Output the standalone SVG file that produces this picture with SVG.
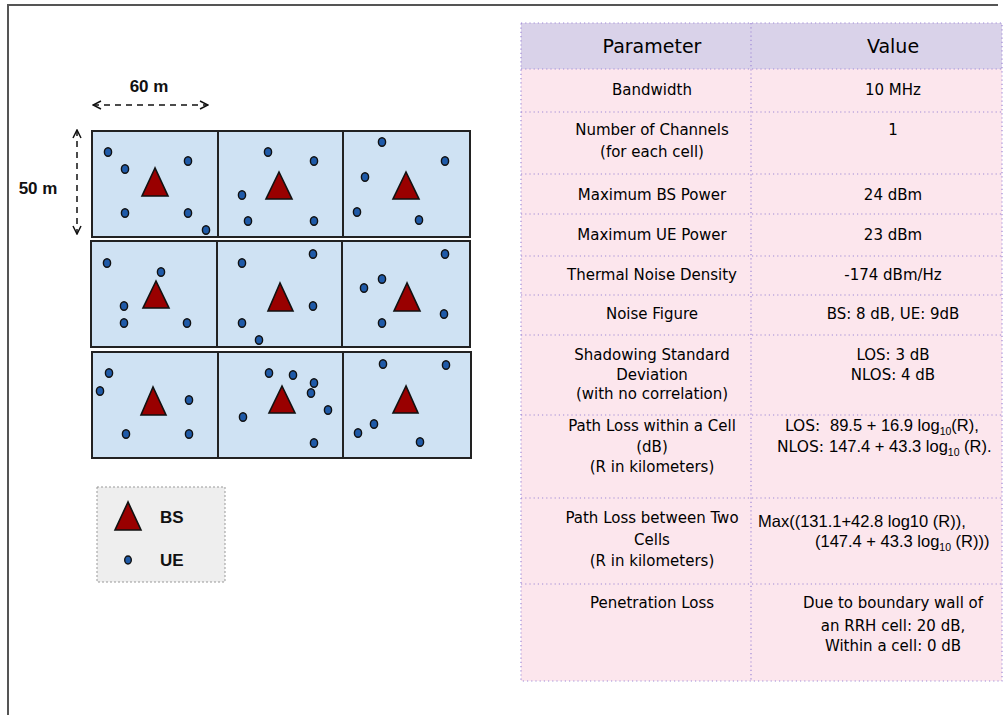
<svg xmlns="http://www.w3.org/2000/svg" width="1007" height="715" viewBox="0 0 1007 715">
<defs>
<style>
.frame{fill:none;stroke:#555;stroke-width:2}
.cell{fill:#cfe2f3;stroke:#222;stroke-width:2}
.bs{fill:#990000;stroke:#111;stroke-width:1.6;stroke-linejoin:miter}
.ue{fill:#1f5aa8;stroke:#111;stroke-width:1.4}
.dim{fill:none;stroke:#111;stroke-width:1.5;stroke-dasharray:6,5}
.lbl{font-family:"Liberation Sans",Arial,sans-serif;font-size:17px;font-weight:bold;fill:#111}
.legend{fill:#eeeeee;stroke:#999;stroke-width:1;stroke-dasharray:2,2}
.hdr{fill:#d9d2e9}
.body{fill:#fce6ed}
.grid{fill:none;stroke:#a08ad8;stroke-width:1.2;stroke-dasharray:1.2,3}
.t{font-family:"DejaVu Sans","Comic Sans MS",sans-serif;font-size:15px;fill:#000;text-anchor:middle}
.th{font-family:"DejaVu Sans","Comic Sans MS",sans-serif;font-size:19px;fill:#000;text-anchor:middle}
.f{font-family:"Liberation Sans",Arial,sans-serif;font-size:16.5px;fill:#000}
.lo{font-family:"DejaVu Sans","Comic Sans MS",sans-serif;font-size:15.5px}
.sub{font-size:10.5px}
</style>
<marker id="arr" viewBox="0 0 10 10" refX="9" refY="5" markerWidth="10" markerHeight="10" markerUnits="userSpaceOnUse" orient="auto-start-reverse">
<path d="M1,1 L9,5 L1,9" fill="none" stroke="#111" stroke-width="1.5"/>
</marker>
</defs>
<rect width="1007" height="715" fill="#ffffff"/>
<path class="frame" d="M8,715 V5 H998"/>

<g id="cell-r1c1">
<rect class="cell" x="92" y="131" width="126" height="106"/>
<polygon class="bs" points="155,168 142,196 168,196"/>
<ellipse class="ue" cx="108" cy="152" rx="3.6" ry="4.3"/>
<ellipse class="ue" cx="125" cy="169" rx="3.6" ry="4.3"/>
<ellipse class="ue" cx="188" cy="161" rx="3.6" ry="4.3"/>
<ellipse class="ue" cx="125" cy="213" rx="3.6" ry="4.3"/>
<ellipse class="ue" cx="188" cy="213" rx="3.6" ry="4.3"/>
<ellipse class="ue" cx="206" cy="230" rx="3.6" ry="4.3"/>
</g>
<g id="cell-r1c2">
<rect class="cell" x="218" y="131" width="125" height="106"/>
<polygon class="bs" points="279,172 266,199 292,199"/>
<ellipse class="ue" cx="268" cy="152" rx="3.6" ry="4.3"/>
<ellipse class="ue" cx="314" cy="161" rx="3.6" ry="4.3"/>
<ellipse class="ue" cx="242" cy="195" rx="3.6" ry="4.3"/>
<ellipse class="ue" cx="248" cy="221" rx="3.6" ry="4.3"/>
<ellipse class="ue" cx="314" cy="221" rx="3.6" ry="4.3"/>
</g>
<g id="cell-r1c3">
<rect class="cell" x="343" y="131" width="127" height="106"/>
<polygon class="bs" points="406,172 393,199 419,199"/>
<ellipse class="ue" cx="382" cy="142" rx="3.6" ry="4.3"/>
<ellipse class="ue" cx="445" cy="161" rx="3.6" ry="4.3"/>
<ellipse class="ue" cx="365" cy="177" rx="3.6" ry="4.3"/>
<ellipse class="ue" cx="357" cy="212" rx="3.6" ry="4.3"/>
<ellipse class="ue" cx="419" cy="220" rx="3.6" ry="4.3"/>
</g>

<g id="cell-r2c1">
<rect class="cell" x="91" y="241" width="126" height="106"/>
<polygon class="bs" points="156,281 143,308 169,308"/>
<ellipse class="ue" cx="107" cy="263" rx="3.6" ry="4.3"/>
<ellipse class="ue" cx="161" cy="272" rx="3.6" ry="4.3"/>
<ellipse class="ue" cx="124" cy="306" rx="3.6" ry="4.3"/>
<ellipse class="ue" cx="124" cy="323" rx="3.6" ry="4.3"/>
<ellipse class="ue" cx="187" cy="323" rx="3.6" ry="4.3"/>
</g>
<g id="cell-r2c2">
<rect class="cell" x="217" y="241" width="125" height="106"/>
<polygon class="bs" points="280,283 268,311 293,311"/>
<ellipse class="ue" cx="242" cy="263" rx="3.6" ry="4.3"/>
<ellipse class="ue" cx="313" cy="254" rx="3.6" ry="4.3"/>
<ellipse class="ue" cx="313" cy="306" rx="3.6" ry="4.3"/>
<ellipse class="ue" cx="242" cy="323" rx="3.6" ry="4.3"/>
<ellipse class="ue" cx="259" cy="340" rx="3.6" ry="4.3"/>
</g>
<g id="cell-r2c3">
<rect class="cell" x="342" y="241" width="128" height="106"/>
<polygon class="bs" points="407,283 394,311 420,311"/>
<ellipse class="ue" cx="445" cy="254" rx="3.6" ry="4.3"/>
<ellipse class="ue" cx="382" cy="279" rx="3.6" ry="4.3"/>
<ellipse class="ue" cx="364" cy="288" rx="3.6" ry="4.3"/>
<ellipse class="ue" cx="444" cy="314" rx="3.6" ry="4.3"/>
<ellipse class="ue" cx="382" cy="323" rx="3.6" ry="4.3"/>
</g>

<g id="cell-r3c1">
<rect class="cell" x="92" y="352" width="126" height="106"/>
<polygon class="bs" points="153,387 141,415 166,415"/>
<ellipse class="ue" cx="109" cy="373" rx="3.6" ry="4.3"/>
<ellipse class="ue" cx="100" cy="391" rx="3.6" ry="4.3"/>
<ellipse class="ue" cx="189" cy="400" rx="3.6" ry="4.3"/>
<ellipse class="ue" cx="126" cy="434" rx="3.6" ry="4.3"/>
<ellipse class="ue" cx="189" cy="434" rx="3.6" ry="4.3"/>
</g>
<g id="cell-r3c2">
<rect class="cell" x="218" y="352" width="125" height="106"/>
<polygon class="bs" points="282,386 269,413 295,413"/>
<ellipse class="ue" cx="269" cy="373" rx="3.6" ry="4.3"/>
<ellipse class="ue" cx="293" cy="375" rx="3.6" ry="4.3"/>
<ellipse class="ue" cx="314" cy="383" rx="3.6" ry="4.3"/>
<ellipse class="ue" cx="311" cy="393" rx="3.6" ry="4.3"/>
<ellipse class="ue" cx="328" cy="410" rx="3.6" ry="4.3"/>
<ellipse class="ue" cx="243" cy="417" rx="3.6" ry="4.3"/>
<ellipse class="ue" cx="314" cy="443" rx="3.6" ry="4.3"/>
</g>
<g id="cell-r3c3">
<rect class="cell" x="343" y="352" width="128" height="106"/>
<polygon class="bs" points="406,386 393,413 418,413"/>
<ellipse class="ue" cx="383" cy="364" rx="3.6" ry="4.3"/>
<ellipse class="ue" cx="446" cy="365" rx="3.6" ry="4.3"/>
<ellipse class="ue" cx="374" cy="424" rx="3.6" ry="4.3"/>
<ellipse class="ue" cx="358" cy="433" rx="3.6" ry="4.3"/>
<ellipse class="ue" cx="420" cy="442" rx="3.6" ry="4.3"/>
</g>

<g id="connectors">
<line class="dim" x1="93" y1="105" x2="208" y2="105" marker-start="url(#arr)" marker-end="url(#arr)"/>
<line class="dim" x1="77" y1="130" x2="77" y2="234" marker-start="url(#arr)" marker-end="url(#arr)"/>
</g>
<g id="dim-labels">
<text class="lbl" x="149" y="92" text-anchor="middle">60 m</text>
<text class="lbl" x="38" y="194" text-anchor="middle">50 m</text>
</g>

<g id="legend">
<rect class="legend" x="97" y="487" width="128" height="95"/>
<polygon class="bs" points="128,502 115,530 141,530"/>
<text class="lbl" x="160" y="523">BS</text>
<ellipse class="ue" cx="128" cy="560" rx="3.3" ry="4"/>
<text class="lbl" x="160" y="566">UE</text>
</g>

<g id="table">
<rect class="hdr" x="521" y="23" width="481" height="46"/>
<rect class="body" x="521" y="69" width="481" height="612"/>
<g class="grid">
<rect x="521" y="23" width="481" height="658"/>
<line x1="751" y1="23" x2="751" y2="681"/>
<line x1="521" y1="69" x2="1002" y2="69"/>
<line x1="521" y1="112" x2="1002" y2="112"/>
<line x1="521" y1="174" x2="1002" y2="174"/>
<line x1="521" y1="214" x2="1002" y2="214"/>
<line x1="521" y1="256" x2="1002" y2="256"/>
<line x1="521" y1="295" x2="1002" y2="295"/>
<line x1="521" y1="335" x2="1002" y2="335"/>
<line x1="521" y1="415" x2="1002" y2="415"/>
<line x1="521" y1="498" x2="1002" y2="498"/>
<line x1="521" y1="584" x2="1002" y2="584"/>
</g>
<g id="row-header">
<text class="th" x="652" y="53">Parameter</text>
<text class="th" x="893" y="53">Value</text>
</g>
<g id="row-bandwidth">
<text class="t" x="652" y="95">Bandwidth</text>
<text class="t" x="893" y="95">10 MHz</text>
</g>
<g id="row-channels">
<text class="t" x="652" y="135">Number of Channels</text>
<text class="t" x="652" y="157">(for each cell)</text>
<text class="t" x="893" y="135">1</text>
</g>
<g id="row-bs-power">
<text class="t" x="652" y="200">Maximum BS Power</text>
<text class="t" x="893" y="200">24 dBm</text>
</g>
<g id="row-ue-power">
<text class="t" x="652" y="240">Maximum UE Power</text>
<text class="t" x="893" y="240">23 dBm</text>
</g>
<g id="row-thermal">
<text class="t" x="652" y="280">Thermal Noise Density</text>
<text class="t" x="893" y="280">-174 dBm/Hz</text>
</g>
<g id="row-noise">
<text class="t" x="652" y="319">Noise Figure</text>
<text class="t" x="893" y="319">BS: 8 dB, UE: 9dB</text>
</g>
<g id="row-shadowing">
<text class="t" x="652" y="360">Shadowing Standard</text>
<text class="t" x="652" y="380">Deviation</text>
<text class="t" x="652" y="399">(with no correlation)</text>
<text class="t" x="893" y="360">LOS: 3 dB</text>
<text class="t" x="893" y="380">NLOS: 4 dB</text>
</g>
<g id="row-pl-within">
<text class="t" x="652" y="431">Path Loss within a Cell</text>
<text class="t" x="652" y="452">(dB)</text>
<text class="t" x="652" y="472">(R in kilometers)</text>
<text class="f" x="785" y="431"><tspan class="lo">LOS:</tspan><tspan x="830">89.5 + 16.9 log</tspan><tspan class="sub" dy="4">10</tspan><tspan dy="-4">(R),</tspan></text>
<text class="f" x="777" y="452"><tspan class="lo">NLOS:</tspan><tspan x="829">147.4 + 43.3 log</tspan><tspan class="sub" dy="4">10</tspan><tspan dy="-4"> (R).</tspan></text>
</g>
<g id="row-pl-between">
<text class="t" x="652" y="523">Path Loss between Two</text>
<text class="t" x="652" y="545">Cells</text>
<text class="t" x="652" y="566">(R in kilometers)</text>
<text class="f" x="758" y="527">Max((131.1+42.8 log10 (R)),</text>
<text class="f" x="815" y="547">(147.4 + 43.3 log<tspan class="sub" dy="4">10</tspan><tspan dy="-4"> (R)))</tspan></text>
</g>
<g id="row-penetration">
<text class="t" x="652" y="608">Penetration Loss</text>
<text class="t" x="893" y="608">Due to boundary wall of</text>
<text class="t" x="893" y="631">an RRH cell: 20 dB,</text>
<text class="t" x="893" y="651">Within a cell: 0 dB</text>
</g>
</g>
</svg>
